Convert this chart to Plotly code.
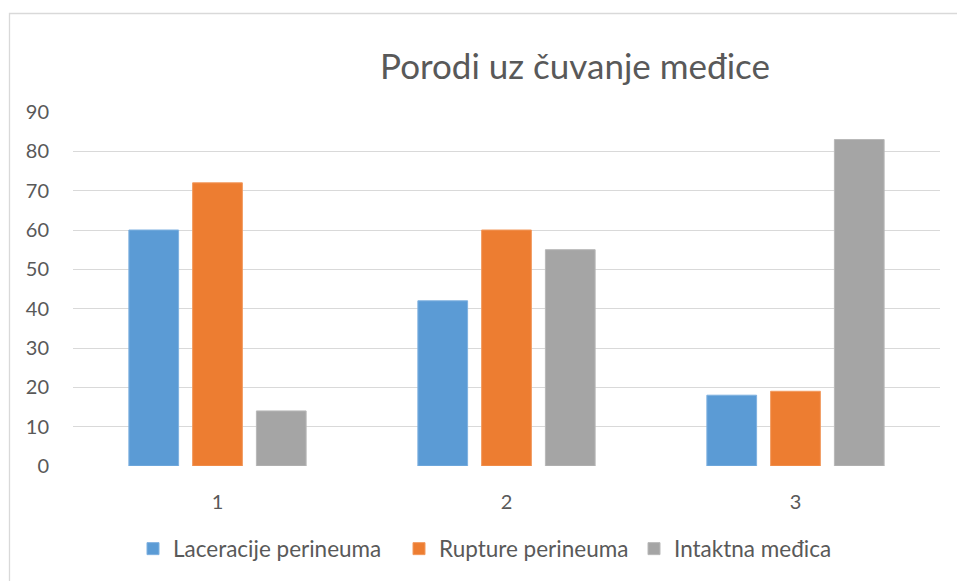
import plotly.graph_objects as go

categories = ["1", "2", "3"]
laceracije = [60, 42, 18]
rupture = [72, 60, 19]
intaktna = [14, 55, 83]
series_names = ["Laceracije perineuma", "Rupture perineuma", "Intaktna međica"]
colors = ["#5B9BD5", "#ED7D31", "#A5A5A5"]
edge_colors = ["#7FB1E0", "#F29A5E", "#B8B8B8"]
y_ticks = [0, 10, 20, 30, 40, 50, 60, 70, 80, 90]

FONT = "Lato"
TXT = "#595959"

W, H = 957, 581
L, R, T, B = 73, 17, 112, 115
pw, ph = W - L - R, H - T - B

legend_ids = ["legend", "legend2", "legend3"]
legend_left_px = [147, 413, 648]

fig = go.Figure()
for name, vals, c, ec, lid in zip(series_names, [laceracije, rupture, intaktna],
                                  colors, edge_colors, legend_ids):
    fig.add_trace(go.Bar(x=categories, y=vals, name=name, legend=lid,
                         marker=dict(color=c, line=dict(color=ec, width=1))))

legend_common = dict(orientation="h", xref="container", yref="container",
                     xanchor="left", yanchor="middle",
                     font=dict(family=FONT, size=22.5, color=TXT), itemwidth=30)

fig.update_layout(
    width=W, height=H,
    margin=dict(l=L, r=R, t=T, b=B),
    paper_bgcolor="white", plot_bgcolor="white",
    barmode="group", bargap=0.338, bargroupgap=0.22,
    font=dict(family=FONT, color=TXT, size=20),
    title=dict(text="Porodi uz čuvanje međice", x=575 / W, xanchor="center",
               y=1 - 67 / H, yanchor="middle",
               font=dict(family=FONT, size=35, color=TXT)),
    showlegend=True,
    xaxis=dict(showgrid=False, showline=False, zeroline=False,
               ticks="outside", ticklen=18, tickcolor="rgba(0,0,0,0)",
               tickfont=dict(family=FONT, size=20, color=TXT)),
    yaxis=dict(range=[0, 90], tickvals=y_ticks, showgrid=True, gridcolor="#D9D9D9",
               gridwidth=1.3, zeroline=False, showline=False,
               ticks="outside", ticklen=19, tickcolor="rgba(0,0,0,0)",
               tickfont=dict(family=FONT, size=20, color=TXT)),
    shapes=[dict(type="rect", xref="paper", yref="paper",
                 x0=(9.5 - L) / pw, x1=(W + 50 - L) / pw,
                 y0=-(B + 50) / ph, y1=1 + (T - 13.5) / ph,
                 line=dict(color="#D9D9D9", width=1.3), layer="below")],
)
for lid, px in zip(legend_ids, legend_left_px):
    fig.update_layout({lid: dict(legend_common, x=(px - 14) / W, y=1 - 549 / H)})

fig.write_html("out.html", config={"displayModeBar": False})
with open("out.html", "r", encoding="utf-8") as f:
    html = f.read()
html = html.replace("<body>", "<body style=\"margin:0;overflow:hidden\">", 1)
with open("out.html", "w", encoding="utf-8") as f:
    f.write(html)
